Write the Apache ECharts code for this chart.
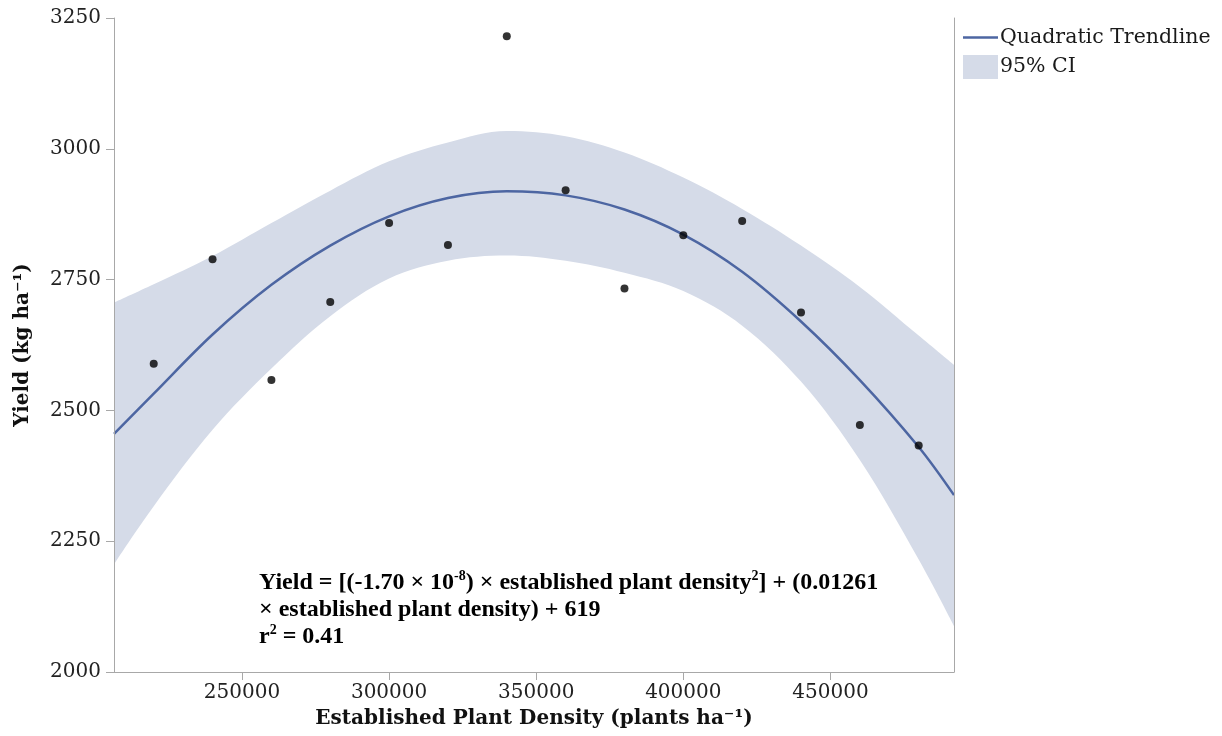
<!DOCTYPE html>
<html>
<head>
<meta charset="utf-8">
<script src="https://cdn.jsdelivr.net/npm/echarts@6/dist/echarts.min.js"></script>
<style>html,body{margin:0;padding:0;background:#fff;}#c{width:1222px;height:736px;}</style>
</head>
<body>
<div id="c"></div>
<script>
// Observed data points
const densityX = [220000, 240000, 260000, 280000, 300000, 320000, 340000, 360000, 380000, 400000, 420000, 440000, 460000, 480000];
const yieldY = [2589, 2789, 2558, 2707, 2858, 2816, 3215, 2921, 2733, 2835, 2862, 2687, 2472, 2433];

// Trendline and 95% CI
const trendX = [206500, 220000, 240000, 260000, 280000, 300000, 320000, 340000, 360000, 380000, 400000, 420000, 440000, 460000, 480000, 492000];
const trendY = [2455, 2532, 2645, 2740, 2815, 2871, 2906, 2919, 2911, 2884, 2836, 2765, 2670, 2558, 2430, 2338];
const ciUpper = [2706, 2741, 2795, 2858, 2920, 2976, 3012, 3034, 3024, 2993, 2945, 2885, 2815, 2736, 2643, 2587];
const ciLower = [2206, 2317, 2463, 2580, 2680, 2752, 2786, 2796, 2786, 2763, 2728, 2662, 2555, 2405, 2215, 2088];

const xTicks = [250000, 300000, 350000, 400000, 450000];

const SERIF = '"DejaVu Serif", serif';
const TIMES = '"Liberation Serif", "Times New Roman", serif';
const BAND = '#d5dbe8';
const LINE = '#4d66a2';

const chart = echarts.init(document.getElementById('c'), null, {renderer: 'canvas'});
const option = {
  backgroundColor: '#fff',
  animation: false,
  grid: {left: 114, right: 268, top: 18, bottom: 64},
  legend: {
    orient: 'vertical', left: 963, top: 27, itemGap: 7, padding: 0,
    itemWidth: 35, itemHeight: 24,
    textStyle: {fontFamily: SERIF, fontSize: 20.5, color: '#1a1a1a', padding: [0, 0, 0, -3]},
    data: [
      {name: 'Quadratic Trendline', icon: 'path://M0,0 H35 V2.5 H0 Z', itemStyle: {color: LINE}},
      {name: '95% CI', icon: 'rect', itemStyle: {color: BAND}}
    ]
  },
  xAxis: {
    type: 'value', min: 206500, max: 492000, z: 10,
    name: 'Established Plant Density (plants ha⁻¹)',
    nameLocation: 'middle', nameGap: 37,
    nameTextStyle: {fontFamily: SERIF, fontSize: 20, fontWeight: 'bold', color: '#111'},
    axisLine: {show: true, onZero: false, lineStyle: {color: '#a8a8a8', width: 1}},
    axisTick: {show: true, length: 8, customValues: xTicks, lineStyle: {color: '#a8a8a8'}},
    axisLabel: {customValues: xTicks, margin: 11, fontFamily: SERIF, fontSize: 20, color: '#222',
      formatter: v => String(v)},
    splitLine: {show: false}
  },
  yAxis: [{
    type: 'value', min: 2000, max: 3250, interval: 250, z: 10,
    name: 'Yield (kg ha⁻¹)', nameLocation: 'middle', nameGap: 81,
    nameTextStyle: {fontFamily: SERIF, fontSize: 20, fontWeight: 'bold', color: '#111'},
    axisLine: {show: true, lineStyle: {color: '#a8a8a8', width: 1}},
    axisTick: {show: true, length: 8, lineStyle: {color: '#a8a8a8'}},
    axisLabel: {margin: 13, fontFamily: SERIF, fontSize: 20, color: '#222', formatter: v => String(v)},
    splitLine: {show: false}
  }, {
    type: 'value', min: 2000, max: 3250, position: 'right', z: 10,
    axisLine: {show: true, lineStyle: {color: '#a8a8a8', width: 1}},
    axisTick: {show: false}, axisLabel: {show: false}, splitLine: {show: false}
  }],
  series: [
    {
      name: '95% CI', type: 'line', smooth: 0.35, symbol: 'none',
      data: trendX.map((x, i) => [x, ciUpper[i]]),
      lineStyle: {width: 0, color: BAND}, itemStyle: {color: BAND},
      areaStyle: {color: BAND, opacity: 1, origin: 'start'}, silent: true, z: 1
    },
    {
      name: 'ciLowerMask', type: 'line', smooth: 0.35, symbol: 'none',
      data: trendX.map((x, i) => [x, ciLower[i]]),
      lineStyle: {width: 0, color: '#fff'}, itemStyle: {color: '#fff'},
      areaStyle: {color: '#fff', opacity: 1, origin: 'start'}, silent: true, z: 2
    },
    {
      name: 'Quadratic Trendline', type: 'line', smooth: 0.35, symbol: 'none',
      data: trendX.map((x, i) => [x, trendY[i]]),
      itemStyle: {color: LINE}, lineStyle: {color: LINE, width: 2.5}, z: 3
    },
    {
      name: 'Observed', type: 'scatter', symbolSize: 8,
      data: densityX.map((x, i) => [x, yieldY[i]]),
      itemStyle: {color: '#000'}, z: 4
    }
  ],
  graphic: [{
    type: 'text', left: 259, top: 569, z: 20,
    style: {
      text: 'Yield = [(-1.70 × 10{sup|-8}) × established plant density{sup|2}] + (0.01261\n× established plant density) + 619\nr{sup|2} = 0.41',
      font: 'bold 24px ' + TIMES, fill: '#000', lineHeight: 27,
      rich: {
        sup: {font: 'bold 14px ' + TIMES, fill: '#000', verticalAlign: 'top', lineHeight: 15}
      }
    }
  }]
};
chart.setOption(option);
</script>
</body>
</html>
